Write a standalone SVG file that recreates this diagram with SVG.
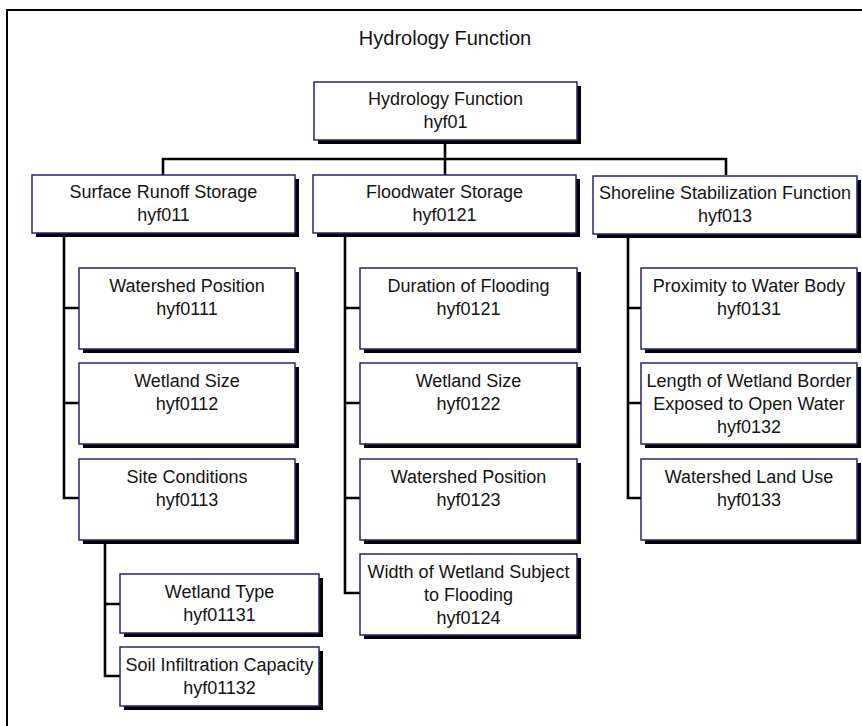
<svg xmlns="http://www.w3.org/2000/svg" width="862" height="726" viewBox="0 0 862 726">
<style>
.bg{fill:#ffffff}
.frame{fill:none;stroke:#000;stroke-width:2}
.sh{fill:#000}
.box{fill:#fff;stroke:#24247a;stroke-width:1.5}
.t{font-family:"Liberation Sans",Arial,sans-serif;font-size:18px;fill:#141414;text-anchor:middle}
.title{font-family:"Liberation Sans",Arial,sans-serif;font-size:20px;fill:#141414;text-anchor:middle}
.c{fill:none;stroke:#000;stroke-width:2.6}
</style>
<rect class="bg" x="0" y="0" width="862" height="726"/>
<path class="frame" d="M7,727 V10 H863"/>
<text class="title" x="445" y="45">Hydrology Function</text>
<g id="connectors">
<path class="c" d="M445,141 V175 M163,175 V159 H726 V175"/>
<path class="c" d="M64,233 V498 H79 M64,308 H79 M64,403 H79"/>
<path class="c" d="M345,233 V593 H360 M345,308 H360 M345,403 H360 M345,498 H360"/>
<path class="c" d="M628,234 V498 H641 M628,308 H641 M628,403 H641"/>
<path class="c" d="M105,540 V676 H120 M105,604 H120"/>
</g>
<g id="hyf01"><rect class="sh" x="318" y="86" width="263" height="58"/><rect class="box" x="314" y="82" width="263" height="58"/><text class="t" x="445.5" y="105">Hydrology Function</text><text class="t" x="445.5" y="128">hyf01</text></g>
<g id="hyf011"><rect class="sh" x="36" y="179" width="263" height="58"/><rect class="box" x="32" y="175" width="263" height="58"/><text class="t" x="163.5" y="198">Surface Runoff Storage</text><text class="t" x="163.5" y="221">hyf011</text></g>
<g id="hyf0121a"><rect class="sh" x="317" y="179" width="263" height="58"/><rect class="box" x="313" y="175" width="263" height="58"/><text class="t" x="444.5" y="198">Floodwater Storage</text><text class="t" x="444.5" y="221">hyf0121</text></g>
<g id="hyf013"><rect class="sh" x="597" y="180" width="264" height="58"/><rect class="box" x="593" y="176" width="264" height="58"/><text class="t" x="725" y="199">Shoreline Stabilization Function</text><text class="t" x="725" y="222">hyf013</text></g>
<g id="hyf0111"><rect class="sh" x="83" y="272" width="216" height="81"/><rect class="box" x="79" y="268" width="216" height="81"/><text class="t" x="187" y="292">Watershed Position</text><text class="t" x="187" y="315">hyf0111</text></g>
<g id="hyf0112"><rect class="sh" x="83" y="367" width="216" height="81"/><rect class="box" x="79" y="363" width="216" height="81"/><text class="t" x="187" y="387">Wetland Size</text><text class="t" x="187" y="410">hyf0112</text></g>
<g id="hyf0113"><rect class="sh" x="83" y="463" width="216" height="81"/><rect class="box" x="79" y="459" width="216" height="81"/><text class="t" x="187" y="483">Site Conditions</text><text class="t" x="187" y="506">hyf0113</text></g>
<g id="hyf01131"><rect class="sh" x="124" y="578" width="199" height="59"/><rect class="box" x="120" y="574" width="199" height="59"/><text class="t" x="219.5" y="598">Wetland Type</text><text class="t" x="219.5" y="621">hyf01131</text></g>
<g id="hyf01132"><rect class="sh" x="124" y="651" width="199" height="59"/><rect class="box" x="120" y="647" width="199" height="59"/><text class="t" x="219.5" y="671">Soil Infiltration Capacity</text><text class="t" x="219.5" y="694">hyf01132</text></g>
<g id="hyf0121b"><rect class="sh" x="364" y="272" width="217" height="81"/><rect class="box" x="360" y="268" width="217" height="81"/><text class="t" x="468.5" y="292">Duration of Flooding</text><text class="t" x="468.5" y="315">hyf0121</text></g>
<g id="hyf0122"><rect class="sh" x="364" y="367" width="217" height="81"/><rect class="box" x="360" y="363" width="217" height="81"/><text class="t" x="468.5" y="387">Wetland Size</text><text class="t" x="468.5" y="410">hyf0122</text></g>
<g id="hyf0123"><rect class="sh" x="364" y="463" width="217" height="81"/><rect class="box" x="360" y="459" width="217" height="81"/><text class="t" x="468.5" y="483">Watershed Position</text><text class="t" x="468.5" y="506">hyf0123</text></g>
<g id="hyf0124"><rect class="sh" x="364" y="558" width="217" height="81"/><rect class="box" x="360" y="554" width="217" height="81"/><text class="t" x="468.5" y="578">Width of Wetland Subject</text><text class="t" x="468.5" y="601">to Flooding</text><text class="t" x="468.5" y="624">hyf0124</text></g>
<g id="hyf0131"><rect class="sh" x="645" y="272" width="216" height="81"/><rect class="box" x="641" y="268" width="216" height="81"/><text class="t" x="749" y="292">Proximity to Water Body</text><text class="t" x="749" y="315">hyf0131</text></g>
<g id="hyf0132"><rect class="sh" x="645" y="367" width="216" height="81"/><rect class="box" x="641" y="363" width="216" height="81"/><text class="t" x="749" y="387">Length of Wetland Border</text><text class="t" x="749" y="410">Exposed to Open Water</text><text class="t" x="749" y="433">hyf0132</text></g>
<g id="hyf0133"><rect class="sh" x="645" y="463" width="216" height="81"/><rect class="box" x="641" y="459" width="216" height="81"/><text class="t" x="749" y="483">Watershed Land Use</text><text class="t" x="749" y="506">hyf0133</text></g>
</svg>
